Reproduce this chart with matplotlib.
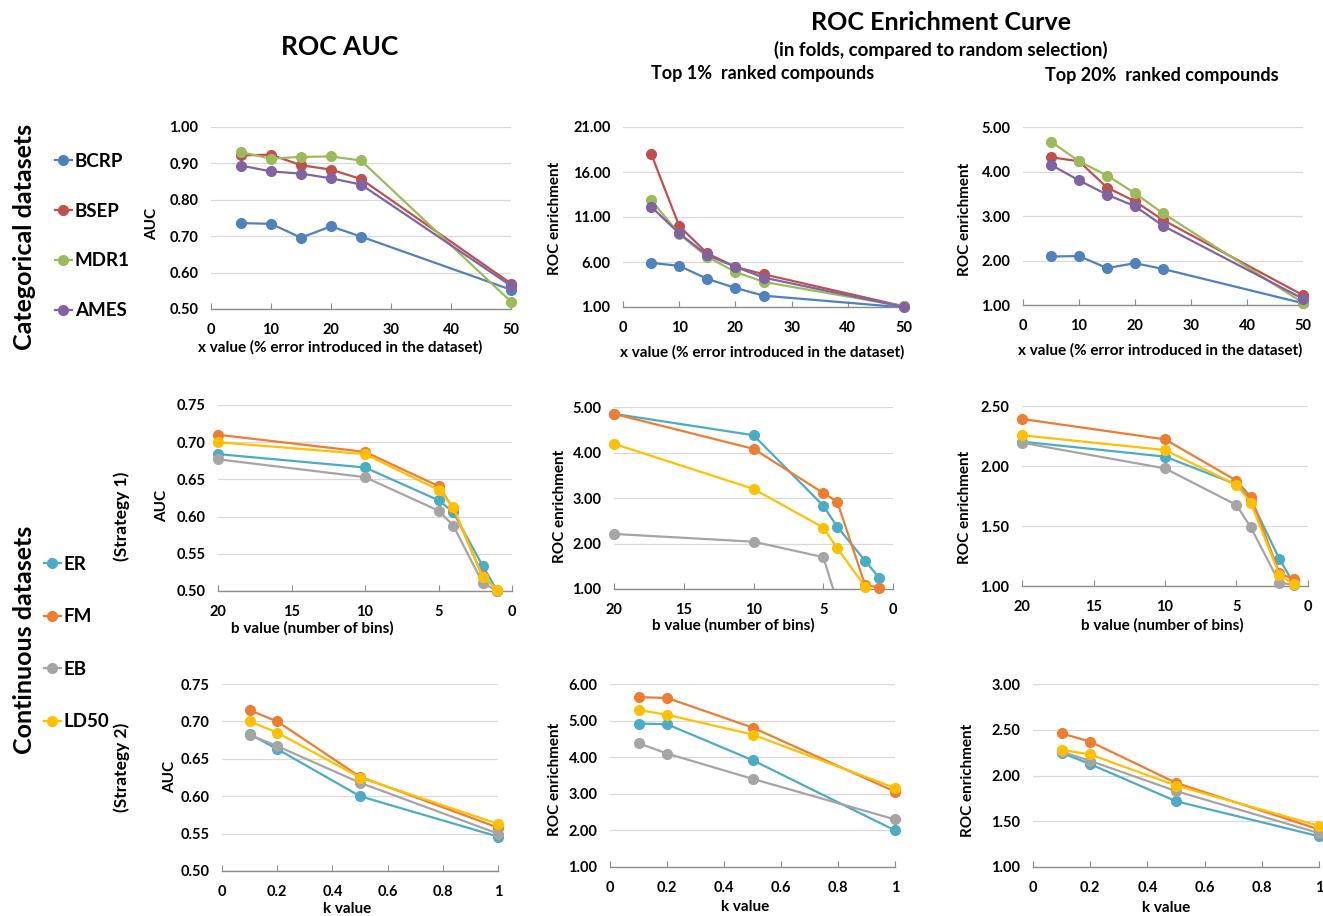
import numpy as np
import matplotlib
matplotlib.use('Agg')
import matplotlib.pyplot as plt
from matplotlib.lines import Line2D
from matplotlib.ticker import FuncFormatter, MultipleLocator

plt.rcParams['font.family'] = ['Lato', 'DejaVu Sans']
plt.rcParams['font.weight'] = 'bold'

W, H = 1323, 916

# categorical datasets (x = % error introduced)
cat_names = ['BCRP', 'BSEP', 'MDR1', 'AMES']
cat_colors = ['#4F81BD', '#C0504D', '#9BBB59', '#8064A2']
x_err = [5, 10, 15, 20, 25, 50]
auc_cat = [[0.736, 0.734, 0.696, 0.727, 0.699, 0.553],
           [0.922, 0.924, 0.895, 0.883, 0.857, 0.570],
           [0.931, 0.913, 0.918, 0.919, 0.908, 0.520],
           [0.894, 0.878, 0.872, 0.859, 0.842, 0.564]]
enr1_cat = [[5.91, 5.57, 4.12, 3.12, 2.26, 0.95],
            [18.03, 10.0, 6.95, 5.46, 4.64, 1.07],
            [12.9, 9.1, 6.58, 4.90, 3.79, 1.07],
            [12.15, 9.18, 6.76, 5.46, 4.27, 1.00]]
enr20_cat = [[2.09, 2.10, 1.83, 1.94, 1.81, 1.04],
             [4.32, 4.23, 3.64, 3.33, 2.91, 1.22],
             [4.67, 4.23, 3.91, 3.51, 3.06, 1.05],
             [4.15, 3.80, 3.48, 3.22, 2.78, 1.14]]

# continuous datasets
cont_names = ['ER', 'FM', 'EB', 'LD50']
cont_colors = ['#4BACC6', '#ED7D31', '#A5A5A5', '#FFC000']
b_vals = [20, 10, 5, 4, 2, 1]
auc_s1 = [[0.684, 0.666, 0.622, 0.606, 0.534, 0.500],
          [0.710, 0.687, 0.641, 0.611, 0.520, 0.502],
          [0.677, 0.653, 0.608, 0.588, 0.511, 0.500],
          [0.700, 0.684, 0.636, 0.613, 0.519, 0.502]]
enr1_s1 = [[4.85, 4.38, 2.83, 2.37, 1.62, 1.25],
           [4.85, 4.08, 3.11, 2.92, 1.09, 1.03],
           [2.21, 2.04, 1.70, 0.72, np.nan, np.nan],
           [4.19, 3.20, 2.35, 1.90, 1.05, np.nan]]
enr20_s1 = [[2.203, 2.078, 1.847, 1.720, 1.225, 1.020],
            [2.392, 2.222, 1.878, 1.744, 1.106, 1.056],
            [2.194, 1.980, 1.675, 1.489, 1.028, 1.010],
            [2.256, 2.133, 1.842, 1.694, 1.092, 1.014]]
k_vals = [0.1, 0.2, 0.5, 1]
auc_s2 = [[0.683, 0.663, 0.600, 0.546],
          [0.715, 0.700, 0.626, 0.558],
          [0.682, 0.667, 0.618, 0.550],
          [0.700, 0.685, 0.625, 0.563]]
enr1_s2 = [[4.92, 4.90, 3.92, 2.00],
           [5.64, 5.62, 4.81, 3.06],
           [4.38, 4.10, 3.41, 2.30],
           [5.29, 5.16, 4.62, 3.16]]
enr20_s2 = [[2.248, 2.124, 1.719, 1.336],
            [2.46, 2.37, 1.92, 1.41],
            [2.26, 2.16, 1.83, 1.37],
            [2.28, 2.23, 1.89, 1.45]]

fig = plt.figure(figsize=(W / 100, H / 100), dpi=100)


def fx(x):
    return x / W


def fy(y):
    return 1 - y / H


def make_ax(x0, x1, y0, y1):
    return fig.add_axes([fx(x0), fy(y1), (x1 - x0) / W, (y1 - y0) / H])


def panel(ax, xs, series, colors, xlim, xstep, ylim, ystep, xfmt):
    ax.set_xlim(*xlim)
    ax.set_ylim(*ylim)
    ax.xaxis.set_major_locator(MultipleLocator(xstep))
    # excel style: ticks start at the axis minimum
    ax.set_yticks(np.arange(ylim[0], ylim[1] + ystep / 2, ystep))
    ax.yaxis.set_major_formatter(FuncFormatter(lambda v, p: '{:.2f}'.format(v)))
    ax.xaxis.set_major_formatter(FuncFormatter(xfmt))
    for s in ['top', 'right', 'left']:
        ax.spines[s].set_visible(False)
    ax.spines['bottom'].set_color('#8C8C8C')
    ax.spines['bottom'].set_linewidth(1.0)
    ax.grid(axis='y', color='#D9D9D9', linewidth=0.9)
    ax.set_axisbelow(True)
    ax.tick_params(axis='x', direction='in', length=4, color='#8C8C8C',
                   pad=10, labelsize=10.5)
    ax.tick_params(axis='y', length=0, pad=9, labelsize=10.5)
    for t in ax.get_xticklabels() + ax.get_yticklabels():
        t.set_fontweight('bold')
    for vals, c in zip(series, colors):
        vals = np.array(vals, dtype=float)
        xs_a = np.array(xs, dtype=float)
        ax.plot(xs_a, vals, color=c, lw=1.6, zorder=3)
        ok = vals >= ylim[0] - 1e-9
        ax.plot(xs_a[ok], vals[ok], 'o', color=c, ms=7, clip_on=False, zorder=3)


def int_fmt(v, p):
    return '{:d}'.format(int(round(v)))


def k_fmt(v, p):
    return '{:g}'.format(round(v, 2))


xl_err = 'x value (% error introduced in the dataset)'
xl_b = 'b value (number of bins)'
xl_k = 'k value'

panels = [
    ((211, 511, 127, 309), x_err, auc_cat, cat_colors, (0, 50), 10, (0.5, 1.0), 0.1, 'AUC', (152, 224), xl_err, (340, 347)),
    ((623, 904, 127, 307), x_err, enr1_cat, cat_colors, (0, 50), 10, (1, 21), 5, 'ROC enrichment', (555, 218), xl_err, (762, 352)),
    ((1023, 1303, 127, 305), x_err, enr20_cat, cat_colors, (0, 50), 10, (1, 5), 1, 'ROC enrichment', (965, 219), xl_err, (1160, 350)),
    ((218, 512, 405, 591), b_vals, auc_s1, cont_colors, (20, 0), 5, (0.5, 0.75), 0.05, 'AUC', (162, 506), xl_b, (312, 628)),
    ((614, 893, 407, 589), b_vals, enr1_s1, cont_colors, (20, 0), 5, (1, 5), 1, 'ROC enrichment', (560, 506), xl_b, (733, 625)),
    ((1022, 1308, 406, 586), b_vals, enr20_s1, cont_colors, (20, 0), 5, (1, 2.5), 0.5, 'ROC enrichment', (965, 507), xl_b, (1162, 625)),
    ((222, 498, 684, 871), k_vals, auc_s2, cont_colors, (0, 1), 0.2, (0.5, 0.75), 0.05, 'AUC', (170, 777), xl_k, (347, 909)),
    ((610, 895, 684, 867), k_vals, enr1_s2, cont_colors, (0, 1), 0.2, (1, 6), 1, 'ROC enrichment', (555, 779), xl_k, (745, 907)),
    ((1033, 1319, 684, 867), k_vals, enr20_s2, cont_colors, (0, 1), 0.2, (1, 3), 0.5, 'ROC enrichment', (968, 780), xl_k, (1166, 908)),
]

for rect, xs, ser, cols, xlim, xstep, ylim, ystep, ylab, ypos, xlab, xpos in panels:
    ax = make_ax(*rect)
    panel(ax, xs, ser, cols, xlim, xstep, ylim, ystep,
          k_fmt if xstep < 1 else int_fmt)
    fig.text(fx(ypos[0]), fy(ypos[1]), ylab, rotation=90, ha='center', va='center',
             fontsize=11, fontweight='bold')
    fig.text(fx(xpos[0]), fy(xpos[1]), xlab, ha='center', va='center',
             fontsize=11, fontweight='bold')

# titles
fig.text(fx(340), fy(47), 'ROC AUC', ha='center', va='center', fontsize=19, fontweight='bold')
fig.text(fx(941), fy(22), 'ROC Enrichment Curve', ha='center', va='center', fontsize=18, fontweight='bold')
fig.text(fx(941), fy(50), '(in folds, compared to random selection)', ha='center', va='center',
         fontsize=13.5, fontweight='bold')
fig.text(fx(763), fy(73), 'Top 1%  ranked compounds', ha='center', va='center', fontsize=13, fontweight='bold')
fig.text(fx(1162), fy(76), 'Top 20%  ranked compounds', ha='center', va='center', fontsize=13, fontweight='bold')

# row labels
fig.text(fx(25), fy(237), 'Categorical datasets', rotation=90, ha='center', va='center',
         fontsize=18, fontweight='bold')
fig.text(fx(25), fy(640), 'Continuous datasets', rotation=90, ha='center', va='center',
         fontsize=18, fontweight='bold')
fig.text(fx(122), fy(516), '(Strategy 1)', rotation=90, ha='center', va='center',
         fontsize=12.5, fontweight='bold')
fig.text(fx(122), fy(767), '(Strategy 2)', rotation=90, ha='center', va='center',
         fontsize=12.5, fontweight='bold')

# legends
cat_handles = [Line2D([], [], color=c, marker='o', ms=7, lw=1.6) for c in cat_colors]
fig.legend(cat_handles, cat_names, loc='center left', bbox_to_anchor=(fx(55), fy(236)),
           frameon=False, handlelength=0.9, handletextpad=0.15, labelspacing=1.75,
           borderpad=0, borderaxespad=0, prop={'weight': 'bold', 'size': 13.5})
cont_handles = [Line2D([], [], color=c, marker='o', ms=7, lw=1.6) for c in cont_colors]
fig.legend(cont_handles, cont_names, loc='center left', bbox_to_anchor=(fx(44), fy(643)),
           frameon=False, handlelength=0.9, handletextpad=0.15, labelspacing=1.9,
           borderpad=0, borderaxespad=0, prop={'weight': 'bold', 'size': 13.5})

fig.savefig('out.png', dpi=100)
